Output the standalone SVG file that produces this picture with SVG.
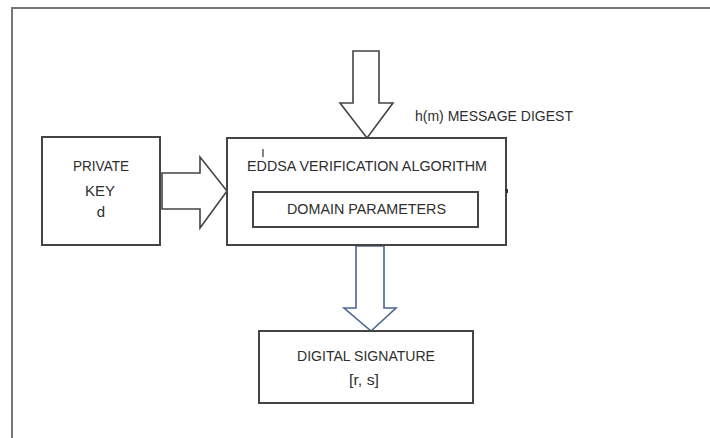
<svg xmlns="http://www.w3.org/2000/svg" width="710" height="438" viewBox="0 0 710 438">
<style>
.box{fill:#fff;stroke:#444;stroke-width:2}
.arr{fill:#fff;stroke:#444;stroke-width:1.6;stroke-linejoin:miter}
.arrb{fill:#fff;stroke:#4a6593;stroke-width:1.6}
text{font-family:"Liberation Sans",Arial,sans-serif;font-size:15px;fill:#2e2e2e}
</style>
<rect width="710" height="438" fill="#fff"/>
<path d="M12,438 V8 H710" fill="none" stroke="#777" stroke-width="2"/>
<g id="connectors">
<polygon class="arr" points="162,173 200,173 200,157 227,191 200,228 200,209 162,209"/>
<polygon class="arr" points="353,51 379,51 379,103 393,103 367,138 340,103 353,103"/>
<polygon class="arrb" points="356,246 384,246 384,308 396,308 371,331 344,308 356,308"/>
</g>
<g id="private-key">
<rect class="box" x="42" y="137" width="118" height="108"/>
<text x="101" y="170.5" text-anchor="middle" textLength="56" lengthAdjust="spacingAndGlyphs">PRIVATE</text>
<text x="100" y="195.5" text-anchor="middle" textLength="30" lengthAdjust="spacingAndGlyphs">KEY</text>
<text x="101" y="217" text-anchor="middle">d</text>
</g>
<g id="message-digest">
<text x="415" y="120.5" textLength="158" lengthAdjust="spacingAndGlyphs">h(m) MESSAGE DIGEST</text>
</g>
<g id="verification">
<rect class="box" x="227" y="138" width="279" height="107"/>
<text x="247" y="170.5" textLength="240" lengthAdjust="spacingAndGlyphs">EDDSA VERIFICATION ALGORITHM</text>
<line x1="263" y1="149" x2="263" y2="157" stroke="#333" stroke-width="1.2"/>
<line x1="507" y1="189" x2="507" y2="193" stroke="#333" stroke-width="2"/>
</g>
<g id="domain-parameters">
<rect class="box" x="253" y="192" width="225" height="35"/>
<text x="287" y="213.5" textLength="159" lengthAdjust="spacingAndGlyphs">DOMAIN PARAMETERS</text>
</g>
<g id="digital-signature">
<rect class="box" x="259" y="331" width="214" height="72"/>
<text x="297" y="360.5" textLength="138" lengthAdjust="spacingAndGlyphs">DIGITAL SIGNATURE</text>
<text x="364" y="385" text-anchor="middle" textLength="30" lengthAdjust="spacingAndGlyphs">[r, s]</text>
</g>
</svg>
